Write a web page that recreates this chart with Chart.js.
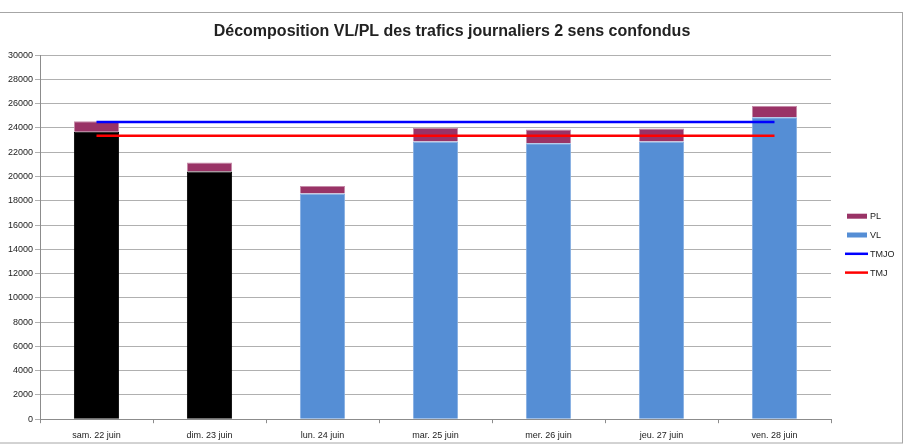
<!DOCTYPE html>
<html>
<head>
<meta charset="utf-8">
<script src="https://cdn.jsdelivr.net/npm/chart.js@4"></script>
<style>
  html, body { margin: 0; padding: 0; background: #fff; }
  #wrap { width: 904px; height: 448px; }
</style>
</head>
<body>
<div id="wrap"><canvas id="chart" width="904" height="448"></canvas></div>
<script>
const days = ['sam. 22 juin', 'dim. 23 juin', 'lun. 24 juin', 'mar. 25 juin', 'mer. 26 juin', 'jeu. 27 juin', 'ven. 28 juin'];
const vl = [23690, 20410, 18600, 22890, 22750, 22890, 24880];
const pl = [860, 740, 630, 1130, 1130, 1070, 930];
const tmjo = [24490, 24490, 24490, 24490, 24490, 24490, 24490];
const tmj = [23360, 23360, 23360, 23360, 23360, 23360, 23360];
const yTicks = [0, 2000, 4000, 6000, 8000, 10000, 12000, 14000, 16000, 18000, 20000, 22000, 24000, 26000, 28000, 30000];

const FONT = "'Liberation Sans Narrow', 'Liberation Sans', sans-serif";
const blue = '#558ED5';
const plum = '#993366';
// weekend days shown in black
const vlColors = ['#000000', '#000000', blue, blue, blue, blue, blue];
const vlBorders = ['#000000', '#000000', '#86aee2', '#86aee2', '#86aee2', '#86aee2', '#86aee2'];

const legendItems = [
  { label: 'PL', color: plum, type: 'box' },
  { label: 'VL', color: blue, type: 'box' },
  { label: 'TMJO', color: '#0000FF', type: 'line' },
  { label: 'TMJ', color: '#FF0000', type: 'line' }
];

// frame around the whole chart + legend on the right
const framePlugin = {
  id: 'frame',
  beforeDraw(chart) {
    const ctx = chart.ctx;
    ctx.save();
    ctx.strokeStyle = '#a6a6a6';
    ctx.lineWidth = 1;
    ctx.strokeRect(-2, 12.5, 904.5, 430.5);
    ctx.restore();
  },
  afterDraw(chart) {
    const ctx = chart.ctx;
    const area = chart.chartArea;
    const startY = (area.top + area.bottom) / 2 - 21;
    ctx.save();
    ctx.font = '9px ' + FONT;
    ctx.textBaseline = 'middle';
    legendItems.forEach((item, i) => {
      const y = startY + i * 18.8;
      if (item.type === 'box') {
        ctx.fillStyle = item.color;
        ctx.fillRect(847, y - 2.5, 20, 5);
      } else {
        ctx.strokeStyle = item.color;
        ctx.lineWidth = 2.5;
        ctx.beginPath();
        ctx.moveTo(845, y);
        ctx.lineTo(868, y);
        ctx.stroke();
      }
      ctx.fillStyle = '#222';
      ctx.fillText(item.label, 870, y + 0.5);
    });
    ctx.restore();
  }
};

new Chart(document.getElementById('chart'), {
  type: 'bar',
  data: {
    labels: days,
    datasets: [
      {
        label: 'TMJO',
        type: 'line',
        data: tmjo,
        stack: 'tmjo',
        borderColor: '#0000FF',
        borderWidth: 2.5,
        pointRadius: 0,
        fill: false,
        order: 0
      },
      {
        label: 'TMJ',
        type: 'line',
        data: tmj,
        stack: 'tmj',
        borderColor: '#FF0000',
        borderWidth: 2.5,
        pointRadius: 0,
        fill: false,
        order: 0
      },
      {
        label: 'VL',
        data: vl,
        stack: 'bars',
        backgroundColor: vlColors,
        borderColor: vlBorders,
        borderWidth: 1,
        barPercentage: 0.4,
        categoryPercentage: 1,
        order: 1
      },
      {
        label: 'PL',
        data: pl,
        stack: 'bars',
        backgroundColor: plum,
        borderColor: '#c58aa8',
        borderWidth: 1,
        barPercentage: 0.4,
        categoryPercentage: 1,
        order: 1
      }
    ]
  },
  plugins: [framePlugin],
  options: {
    responsive: false,
    animation: false,
    layout: { padding: { left: 0, right: 0, top: 12, bottom: 0 } },
    plugins: {
      legend: { display: false },
      tooltip: { enabled: false },
      title: {
        display: true,
        text: 'Décomposition VL/PL des trafics journaliers 2 sens confondus',
        color: '#222',
        font: { family: FONT, size: 16, weight: 'bold' },
        padding: { top: 10, bottom: 14 }
      }
    },
    scales: {
      x: {
        stacked: true,
        grid: {
          drawOnChartArea: false,
          drawTicks: true,
          tickLength: 4,
          color: '#8c8c8c'
        },
        border: { color: '#8c8c8c' },
        ticks: {
          color: '#222',
          font: { family: FONT, size: 9 },
          padding: 7,
          maxRotation: 0
        }
      },
      y: {
        stacked: true,
        min: 0,
        max: 30000,
        afterFit(scale) { scale.width = 40; },
        afterBuildTicks(scale) { scale.ticks = yTicks.map(v => ({ value: v })); },
        grid: {
          color: '#b0b0b0',
          tickLength: 5
        },
        border: { color: '#8c8c8c' },
        ticks: {
          color: '#222',
          font: { family: FONT, size: 9 },
          padding: 2,
          callback: v => String(v)
        }
      },
      // empty right-hand axis that only reserves room for the legend
      legendSpace: {
        position: 'right',
        min: 0,
        max: 30000,
        afterFit(scale) { scale.width = 73; },
        grid: { display: false },
        border: { display: false },
        ticks: { display: false }
      }
    }
  }
});
</script>
</body>
</html>
